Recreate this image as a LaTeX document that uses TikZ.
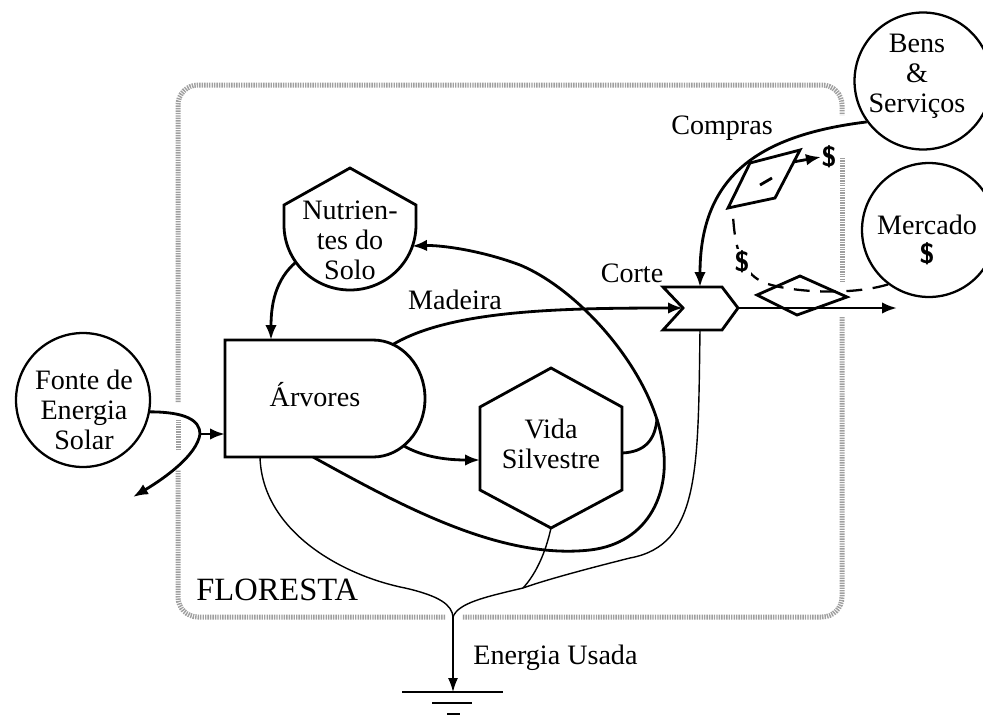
\documentclass[tikz,border=0pt]{standalone}
\usepackage{fontspec}
\setmainfont{Liberation Serif}
\usetikzlibrary{arrows.meta}
\usetikzlibrary{calc}
\newcommand{\cashsign}{\textsf{\bfseries\$}}
\tikzset{
  lbl/.style={font=\fontsize{16}{17}\selectfont,align=center,inner sep=0pt},
  pool/.style={draw,circle,line width=1.3pt,minimum size=#1,inner sep=0pt},
  outline/.style={line width=1.6pt,line join=miter},
  flow/.style={line width=1.6pt,->,>={Latex[length=3mm,width=2.3mm]}},
  heat/.style={line width=0.8pt},
  heatflow/.style={line width=0.8pt,->,>={Latex[length=2.8mm,width=2mm]}},
  money/.style={line width=1.3pt,dash pattern=on 9pt off 6pt},
  fence/.style={line width=1mm,gray!75,dash pattern=on 0.8pt off 0.6pt,rounded corners=0.4cm},
}
\begin{document}
\begin{tikzpicture}[x=0.02cm,y=-0.02cm]
\useasboundingbox (0,0) rectangle (983,717);

\draw[fence] (178,402) -- (178,85) -- (842,85) -- (842,115);
\draw[fence] (842,158) -- (842,283);
\draw[fence] (842,317) -- (842,617) -- (462,617);
\draw[fence] (445,617) -- (178,617) -- (178,470);
\draw[fence] (178,450) -- (178,420);

\node[pool=2.68cm] (fonte) at (83,400) {};
\node[lbl] (fonteT) at (84,410) {Fonte de\\Energia\\Solar};
\node[pool=2.74cm] (bens) at (923,81) {};
\node[lbl] (bensT) at (917,76) {Bens\\\&\\Serviços};
\node[pool=2.68cm] (merc) at (929,230) {};
\node[lbl] (mercT) at (927,240) {Mercado\\\cashsign};

\draw[outline] (225,340) -- (373,340) arc[start angle=-90,end angle=90,x radius=52,y radius=58.5] -- (225,457) -- cycle;
\node[lbl] (arv) at (315,395) {Árvores};
\draw[outline] (350,168) -- (284,205) -- (284,225) arc[start angle=180,end angle=0,x radius=66,y radius=65] -- (416,205) -- cycle;
\node[lbl] (nut) at (350,240) {Nutrien-\\tes do\\Solo};
\draw[outline] (551,368) -- (622,407) -- (622,490) -- (551,528) -- (480,490) -- (480,407) -- cycle;
\node[lbl] (vida) at (551,444) {Vida\\Silvestre};
\draw[outline] (663,287) -- (722,287) -- (738,308) -- (722,330) -- (663,330) -- (683,308) -- cycle;
\node[lbl] (corte) at (632,273) {Corte};

\node[lbl] (madeira) at (455,300) {Madeira};
\node[lbl] (compras) at (722,128) {Compras};
\node[lbl,anchor=west,font=\fontsize{18.5}{20}\selectfont] (floresta) at (196,590) {FLORESTA};
\node[lbl,anchor=west] (usada) at (473,658) {Energia Usada};

\coordinate (split) at (200,434);
\coordinate (lost) at (133,497);
\coordinate (arvIn) at (225,434);
\coordinate (arvTop) at (271,340);
\coordinate (arvOut) at (392,345);
\coordinate (arvVida) at (404,446);
\coordinate (arvLoop) at (313,457);
\coordinate (arvHeat) at (260,457);
\coordinate (nutOut) at (296,262);
\coordinate (nutIn) at (412,246);
\coordinate (vidaIn) at (480,460);
\coordinate (vidaOut) at (622,453);
\coordinate (vidaHeat) at (551,528);
\coordinate (corteIn) at (683,308);
\coordinate (corteTop) at (700,287);
\coordinate (corteOut) at (738,308);
\coordinate (corteHeat) at (700,330);
\coordinate (venda) at (897,308);
\coordinate (join) at (523,588);
\coordinate (sink) at (453,617);
\coordinate (gnd) at (453,692);
\coordinate (cmpD) at (733,215);

\draw[outline] (fonte.-10) .. controls (185,412) and (200,420) .. (split);
\draw[flow] (split) -- (arvIn);
\draw[flow] (split) .. controls (197,455) and (165,478) .. (lost);
\draw[flow] (nutOut) .. controls (275,280) and (271,305) .. (arvTop);
\draw[flow] (arvOut) .. controls (450,310) and (560,308) .. (corteIn);
\draw[flow] (arvVida) .. controls (425,458) and (450,460) .. (vidaIn);
\draw[flow] (arvLoop) .. controls (400,505) and (500,560) .. (590,550)
  .. controls (650,543) and (672,490) .. (662,440)
  .. controls (650,370) and (580,290) .. (520,265)
  .. controls (480,250) and (440,245) .. (nutIn);
\draw[outline] (vidaOut) .. controls (645,452) and (655,440) .. (657,419);

\draw[heat] (arvHeat) .. controls (262,530) and (340,575) .. (405,588)
  .. controls (440,596) and (452,605) .. (sink);
\draw[heat] (vidaHeat) .. controls (545,555) and (535,575) .. (join);
\draw[heat] (corteHeat) .. controls (698,470) and (700,545) .. (630,558)
  .. controls (590,568) and (545,580) .. (join)
  .. controls (485,597) and (458,603) .. (sink);
\draw[heatflow] (sink) -- (gnd);
\draw[line width=1.2pt] (402,692) -- (503,692);
\draw[line width=1.2pt] (432,703) -- (472,703);
\draw[line width=1.2pt] (447,714) -- (460,714);

\draw[flow] (bens.216) .. controls (760,135) and (700,175) .. (corteTop);
\draw[flow] (corteOut) -- (venda);
\draw[outline,fill=white] (728,208) -- (750,163) -- (800,150) -- (775,198) -- cycle;
\draw[outline] (760,185) -- (772,178);
\node[lbl] (dolA) at (829,157) {\cashsign};
\draw[flow] (793,162) -- (dolA.west);
\draw[outline] (757,295) -- (800,276) -- (847,297) -- (797,315) -- cycle;
\draw[money] (merc.233) .. controls (850,296) and (790,292) .. (765,283)
  .. controls (745,275) and (735,255) .. (cmpD);
\node[lbl,fill=white,inner sep=1pt] (dolB) at (742,262) {\cashsign};
\end{tikzpicture}
\end{document}
